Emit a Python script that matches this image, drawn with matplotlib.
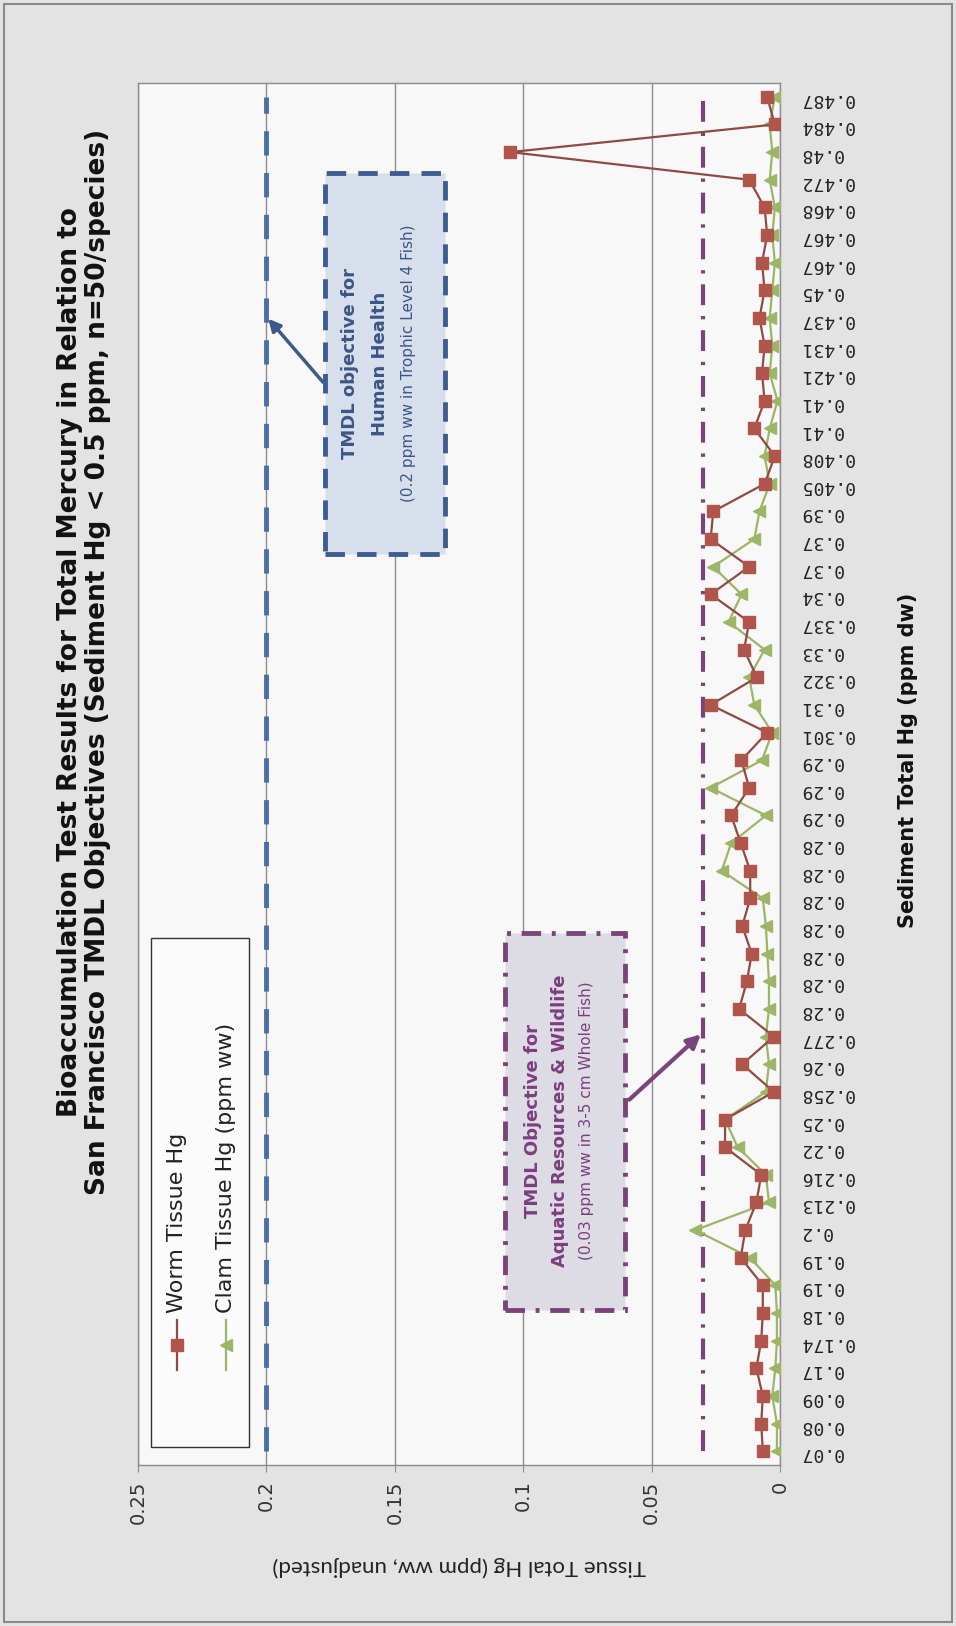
import numpy as np
import matplotlib.pyplot as plt
from matplotlib.patches import Rectangle

# categories: sediment total Hg (ppm dw), in chart order
sediment = ["0.07", "0.08", "0.09", "0.17", "0.174", "0.18", "0.19", "0.19", "0.2",
            "0.213", "0.216", "0.22", "0.25", "0.258", "0.26", "0.277",
            "0.28", "0.28", "0.28", "0.28", "0.28", "0.28", "0.28",
            "0.29", "0.29", "0.29", "0.301", "0.31", "0.322", "0.33", "0.337",
            "0.34", "0.37", "0.37", "0.39", "0.405", "0.408", "0.41", "0.41",
            "0.421", "0.431", "0.437", "0.45", "0.467", "0.467", "0.468",
            "0.472", "0.48", "0.484", "0.487"]

worm = [0.0067, 0.0073, 0.0067, 0.0092, 0.0073, 0.0067, 0.0067, 0.0153, 0.0135, 0.0092,
        0.0073, 0.0214, 0.0214, 0.0024, 0.0147, 0.0024, 0.0159, 0.0129, 0.011, 0.0147,
        0.0116, 0.0116, 0.0153, 0.019, 0.012, 0.015, 0.005, 0.027, 0.009, 0.014,
        0.012, 0.027, 0.012, 0.027, 0.026, 0.006, 0.002, 0.010, 0.006, 0.007,
        0.006, 0.008, 0.006, 0.007, 0.005, 0.006, 0.012, 0.105, 0.002, 0.005]

clam = [0.0012, 0.0012, 0.003, 0.0018, 0.0012, 0.0012, 0.0018, 0.0116, 0.033, 0.0043,
        0.0055, 0.0165, 0.0214, 0.0055, 0.0043, 0.0055, 0.0043, 0.0043, 0.0049, 0.0055,
        0.0067, 0.0227, 0.019, 0.0055, 0.027, 0.007, 0.003, 0.010, 0.012, 0.006,
        0.020, 0.015, 0.026, 0.010, 0.008, 0.004, 0.006, 0.004, 0.001, 0.004,
        0.003, 0.004, 0.003, 0.002, 0.003, 0.002, 0.004, 0.003, 0.004, 0.002]

human_obj = 0.2   # TMDL objective, human health
aquatic_obj = 0.03  # TMDL objective, aquatic resources & wildlife
tissue_ticks = [0, 0.05, 0.1, 0.15, 0.2, 0.25]
tissue_labels = ["0", "0.05", "0.1", "0.15", "0.2", "0.25"]

W, H = 956, 1626
worm_c = "#b0554c"
worm_line = "#8f4a45"
clam_c = "#9db566"
blue = "#4a6ea8"
purple = "#7a4479"
sans = "DejaVu Sans"

fig = plt.figure(figsize=(W / 100, H / 100), dpi=100)
fig.patch.set_facecolor("#e3e3e3")
fig.patches.append(Rectangle((4 / W, 4 / H), 1 - 8 / W, 1 - 8 / H, transform=fig.transFigure,
                             fill=False, edgecolor="#8a8a8a", lw=1.5))

# the chart is turned a quarter turn: tissue Hg runs right-to-left, categories bottom-to-top
ax = fig.add_axes([138 / W, 1 - 1465 / H, 642 / W, 1382 / H])
ax.set_facecolor("#f8f8f8")
y = np.arange(len(sediment))
ax.set_xlim(0.25, 0)
ax.set_ylim(-0.5, len(sediment) - 0.5)

ax.set_xticks(tissue_ticks)
ax.set_xticklabels(tissue_labels, rotation=90, fontsize=14, family=sans, color="#333333")
ax.grid(axis="x", color="#8c8c8c", lw=1)
ax.tick_params(axis="x", length=5, color="#8c8c8c", pad=6)

ax.yaxis.tick_right()
ax.set_yticks(y)
ax.set_yticklabels(sediment, rotation=180, fontsize=13, family="DejaVu Sans Mono",
                   color="#222222")
ax.tick_params(axis="y", length=0, pad=14)
for s in ax.spines.values():
    s.set_color("#8c8c8c")
    s.set_linewidth(1)

# objective lines
ax.plot(np.full(len(sediment), human_obj), y, color=blue, lw=3.5, ls=(0, (5, 3.6)), zorder=3)
ax.plot(np.full(len(sediment), aquatic_obj), y, color=purple, lw=3,
        ls=(0, (5, 2.6, 0.8, 2.6)), zorder=3)

# series
ax.plot(worm, y, color=worm_line, lw=1.6, marker="s", ms=8, mfc=worm_c, mec=worm_c, zorder=5)
ax.plot(clam, y, color=clam_c, lw=1.6, marker="<", ms=9, mfc=clam_c, mec=clam_c, zorder=4)

# hand-made legend (rotated with the chart)
ax.add_patch(Rectangle((0.02, 0.013), 0.153, 0.368, transform=ax.transAxes,
                       facecolor="#fbfbfb", edgecolor="#333333", lw=1, zorder=6))
for xf, lbl, col, lc, mk in [(0.061, "Worm Tissue Hg", worm_c, worm_line, "s"),
                             (0.137, "Clam Tissue Hg (ppm ww)", clam_c, clam_c, "<")]:
    ax.plot([xf, xf], [0.069, 0.105], color=lc, lw=1.6, transform=ax.transAxes, zorder=7)
    ax.plot([xf], [0.087], marker=mk, ms=9, color=col, transform=ax.transAxes, zorder=7)
    ax.text(xf, 0.110, lbl, rotation=90, ha="center", va="bottom", fontsize=16,
            family=sans, color="#222222", transform=ax.transAxes, zorder=7)

# human health objective box
ax.add_patch(Rectangle((0.291, 0.659), 0.187, 0.276, transform=ax.transAxes,
                       facecolor="#d6dfeb", edgecolor="#3d5d8e", lw=3.5, ls=(0, (4, 2.5)),
                       zorder=6))
box_txt = dict(rotation=90, ha="center", va="center", family=sans,
               transform=ax.transAxes, zorder=7)
ax.text(0.330, 0.797, "TMDL objective for", fontsize=13, weight="bold", color="#3b5683", **box_txt)
ax.text(0.377, 0.797, "Human Health", fontsize=13, weight="bold", color="#3b5683", **box_txt)
ax.text(0.421, 0.797, "(0.2 ppm ww in Trophic Level 4 Fish)", fontsize=11, color="#3b5683",
        **box_txt)
ax.annotate("", xy=(human_obj, 0.831), xycoords=("data", "axes fraction"),
            xytext=(0.291, 0.782), textcoords="axes fraction",
            arrowprops=dict(arrowstyle="-|>", color="#3d5a8a", lw=2.5, mutation_scale=18),
            zorder=7)

# aquatic resources objective box
ax.add_patch(Rectangle((0.572, 0.112), 0.187, 0.273, transform=ax.transAxes,
                       facecolor="#dddbe3", edgecolor=purple, lw=3.5,
                       ls=(0, (4, 2.2, 0.8, 2.2)), zorder=6))
ax.text(0.616, 0.249, "TMDL Objective for", fontsize=13, weight="bold", color="#7b3e7e", **box_txt)
ax.text(0.657, 0.249, "Aquatic Resources & Wildlife", fontsize=13, weight="bold",
        color="#7b3e7e", **box_txt)
ax.text(0.699, 0.249, "(0.03 ppm ww in 3-5 cm Whole Fish)", fontsize=11, color="#7b3e7e",
        **box_txt)
ax.annotate("", xy=(aquatic_obj, 0.313), xycoords=("data", "axes fraction"),
            xytext=(0.762, 0.263), textcoords="axes fraction",
            arrowprops=dict(arrowstyle="-|>", color=purple, lw=3, mutation_scale=20),
            zorder=7)

# titles
fig.text(84 / W, 1 - 662 / H,
         "Bioaccumulation Test Results for Total Mercury in Relation to\n"
         "San Francisco TMDL Objectives (Sediment Hg < 0.5 ppm, n=50/species)",
         rotation=90, ha="center", va="center", multialignment="center",
         fontsize=19, weight="bold", family=sans, color="#111111", linespacing=1.1)
fig.text(908 / W, 1 - 760 / H, "Sediment Total Hg (ppm dw)", rotation=90, ha="center",
         va="center", fontsize=15, weight="bold", family=sans, color="#111111")
fig.text(459 / W, 1 - 1566 / H, "Tissue Total Hg (ppm ww, unadjusted)", rotation=180,
         ha="center", va="center", fontsize=16, family="Lato", color="#222222")

fig.savefig("out.png", dpi=100, facecolor=fig.get_facecolor())
